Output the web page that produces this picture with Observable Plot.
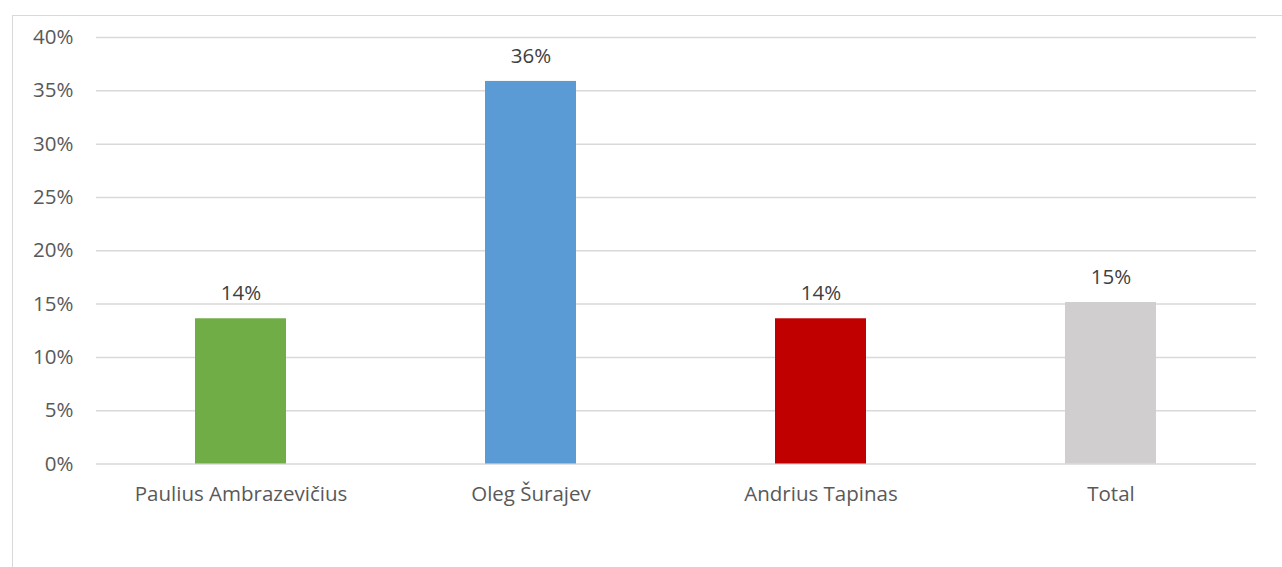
<!DOCTYPE html>
<html>
<head>
<meta charset="utf-8">
<script src="https://cdn.jsdelivr.net/npm/d3@7"></script>
<script src="https://cdn.jsdelivr.net/npm/@observablehq/plot@0.6"></script>
<style>
  html, body { margin: 0; padding: 0; background: #fff; overflow: hidden; }
  #wrap { position: relative; width: 1282px; height: 567px; }
  #frame { position: absolute; left: 12px; top: 15px; width: 1290px; height: 600px; border: 1.5px solid #d9d9d9; box-sizing: border-box; }
  #chart { position: absolute; left: 0; top: 0; }
</style>
</head>
<body>
<div id="wrap">
  <div id="frame"></div>
  <div id="chart"></div>
</div>
<script>
const categories = ["Paulius Ambrazevičius", "Oleg Šurajev", "Andrius Tapinas", "Total"];
const values = [13.62, 35.88, 13.62, 15.15];
const colors = ["#70AD47", "#5B9BD5", "#C00000", "#D0CECE"];
const yTicks = [0, 5, 10, 15, 20, 25, 30, 35, 40];

const data = categories.map((c, i) => ({ cat: c, value: values[i], color: colors[i] }));

const chart = Plot.plot({
  width: 1282,
  height: 567,
  marginLeft: 96,
  marginRight: 26,
  marginTop: 37,
  marginBottom: 103.5,
  style: { fontFamily: "'Open Sans', sans-serif", fontSize: "20.5px", color: "#595959", background: "transparent" },
  x: { domain: categories, paddingInner: 0.686, paddingOuter: 0.343, label: null },
  y: { domain: [0, 40], label: null },
  marks: [
    Plot.gridY(yTicks, { stroke: "#d9d9d9", strokeOpacity: 1, strokeWidth: 1.5 }),
    Plot.barY(data, { x: "cat", y: "value", fill: "color" }),
    Plot.text(data, { x: "cat", y: "value", text: d => Math.round(d.value) + "%", dy: -25, fill: "#404040", fontSize: 20.5 }),
    Plot.axisY(yTicks, { tickSize: 0, tickPadding: 23, tickFormat: d => d + "%", fill: "#595959", fontSize: 20.5, label: null }),
    Plot.axisX({ tickSize: 0, tickPadding: 22, fill: "#595959", fontSize: 20.5, label: null })
  ]
});
document.getElementById("chart").appendChild(chart);
</script>
</body>
</html>
